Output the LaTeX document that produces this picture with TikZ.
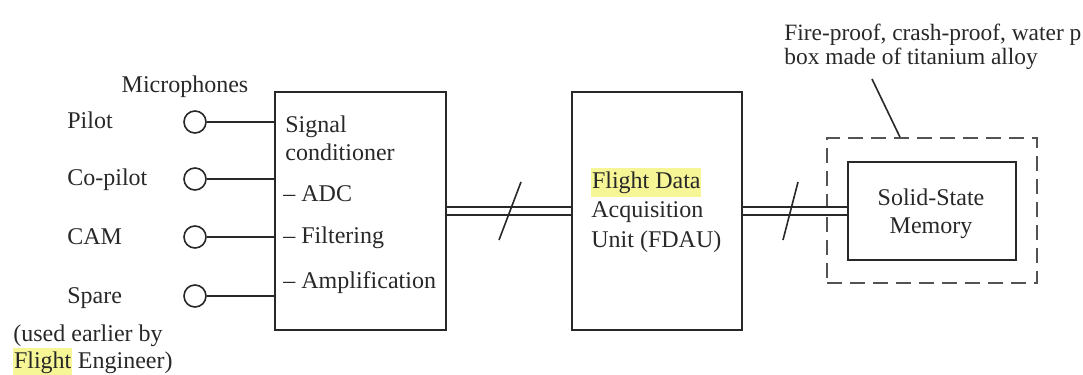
\documentclass[tikz,border=0pt]{standalone}
\usepackage{fontspec}
\setmainfont{Liberation Serif}
\usetikzlibrary{calc}
\definecolor{hlyellow}{RGB}{246,246,150}
\definecolor{ink}{RGB}{40,40,40}
\newcommand\hlt[1]{{\setlength{\fboxsep}{0.3pt}\colorbox{hlyellow}{\strut #1}}}
\begin{document}
\begin{tikzpicture}[x=0.5pt,y=-0.5pt,
  txt/.style={inner sep=0pt, font=\fontsize{12}{14}\selectfont, text=ink},
  lbl/.style={txt, anchor=base west},
  ctr/.style={txt, anchor=base},
  block/.style={draw=ink, line width=0.9pt, inner sep=0pt},
  mic/.style={circle, draw=ink, line width=0.8pt, minimum size=11pt, inner sep=0pt},
  wire/.style={draw=ink, line width=0.8pt},
  bus/.style={draw=ink, line width=0.8pt, double=white, double distance=3pt},
  enclosure/.style={draw=ink!80, line width=0.8pt, dash pattern=on 7.5pt off 4pt, inner sep=0pt}]
\useasboundingbox (0,0) rectangle (1083,375);

% blocks
\node[block, minimum width=85.5pt, minimum height=119pt] (sc) at (360.5,211) {};
\node[block, minimum width=85pt, minimum height=119pt] (fdau) at (657,211) {};
\node[enclosure, minimum width=105pt, minimum height=72.5pt] (enc) at (932,210.5) {};
\node[block, minimum width=84pt, minimum height=49pt] (ssm) at (932,211) {};

% microphones
\node[ctr] (mictitle) at (185,92) {Microphones};
\node[mic] (m1) at (195,122) {};
\node[mic] (m2) at (195,179) {};
\node[mic] (m3) at (195,237) {};
\node[mic] (m4) at (195,296) {};
\node[lbl] (l1) at (67,128) {Pilot};
\node[lbl] (l2) at (67,185) {Co-pilot};
\node[lbl] (l3) at (67,244) {CAM};
\node[lbl] (l4) at (67,303) {Spare};
\node[lbl] (l5) at (13,341) {(used earlier by};
\node[lbl] (l6) at (13,368) {\hlt{Flight} Engineer)};
\foreach \m in {m1,m2,m3,m4}
  \draw[wire] (\m.east) -- (\m.east -| sc.west);

% signal conditioner contents
\node[lbl] (t1) at (285,132) {Signal};
\node[lbl] (t2) at (285,160) {conditioner};
\node[lbl] (t3) at (283,201) {-- ADC};
\node[lbl] (t4) at (283,243) {-- Filtering};
\node[lbl] (t5) at (283,288) {-- Amplification};

% acquisition unit contents
\node[lbl] (f1) at (591,188) {\hlt{Flight Data}};
\node[lbl] (f2) at (591,217) {Acquisition};
\node[lbl] (f3) at (591,247) {Unit (FDAU)};

% memory
\node[ctr] (s1) at (931,205) {Solid-State};
\node[ctr] (s2) at (931,233) {Memory};

% buses with width marks
\draw[bus] (sc.east) -- (fdau.west);
\draw[bus] (fdau.east) -- (ssm.west);
\coordinate (k1) at (510,211);
\coordinate (k2) at (790.5,211);
\draw[wire] ($(k1)+(-11,29)$) -- ($(k1)+(11,-29)$);
\draw[wire] ($(k2)+(-7.5,29)$) -- ($(k2)+(7.5,-29)$);

% enclosure note
\node[lbl, font=\fontsize{11.7}{14}\selectfont] (n1) at (784,40) {Fire-proof, crash-proof, water p};
\node[lbl, font=\fontsize{11.7}{14}\selectfont] (n2) at (784,64) {box made of titanium alloy};
\coordinate (lead) at (872,79);
\draw[wire] (lead) -- ([xshift=-16pt]enc.north);
\end{tikzpicture}
\end{document}
